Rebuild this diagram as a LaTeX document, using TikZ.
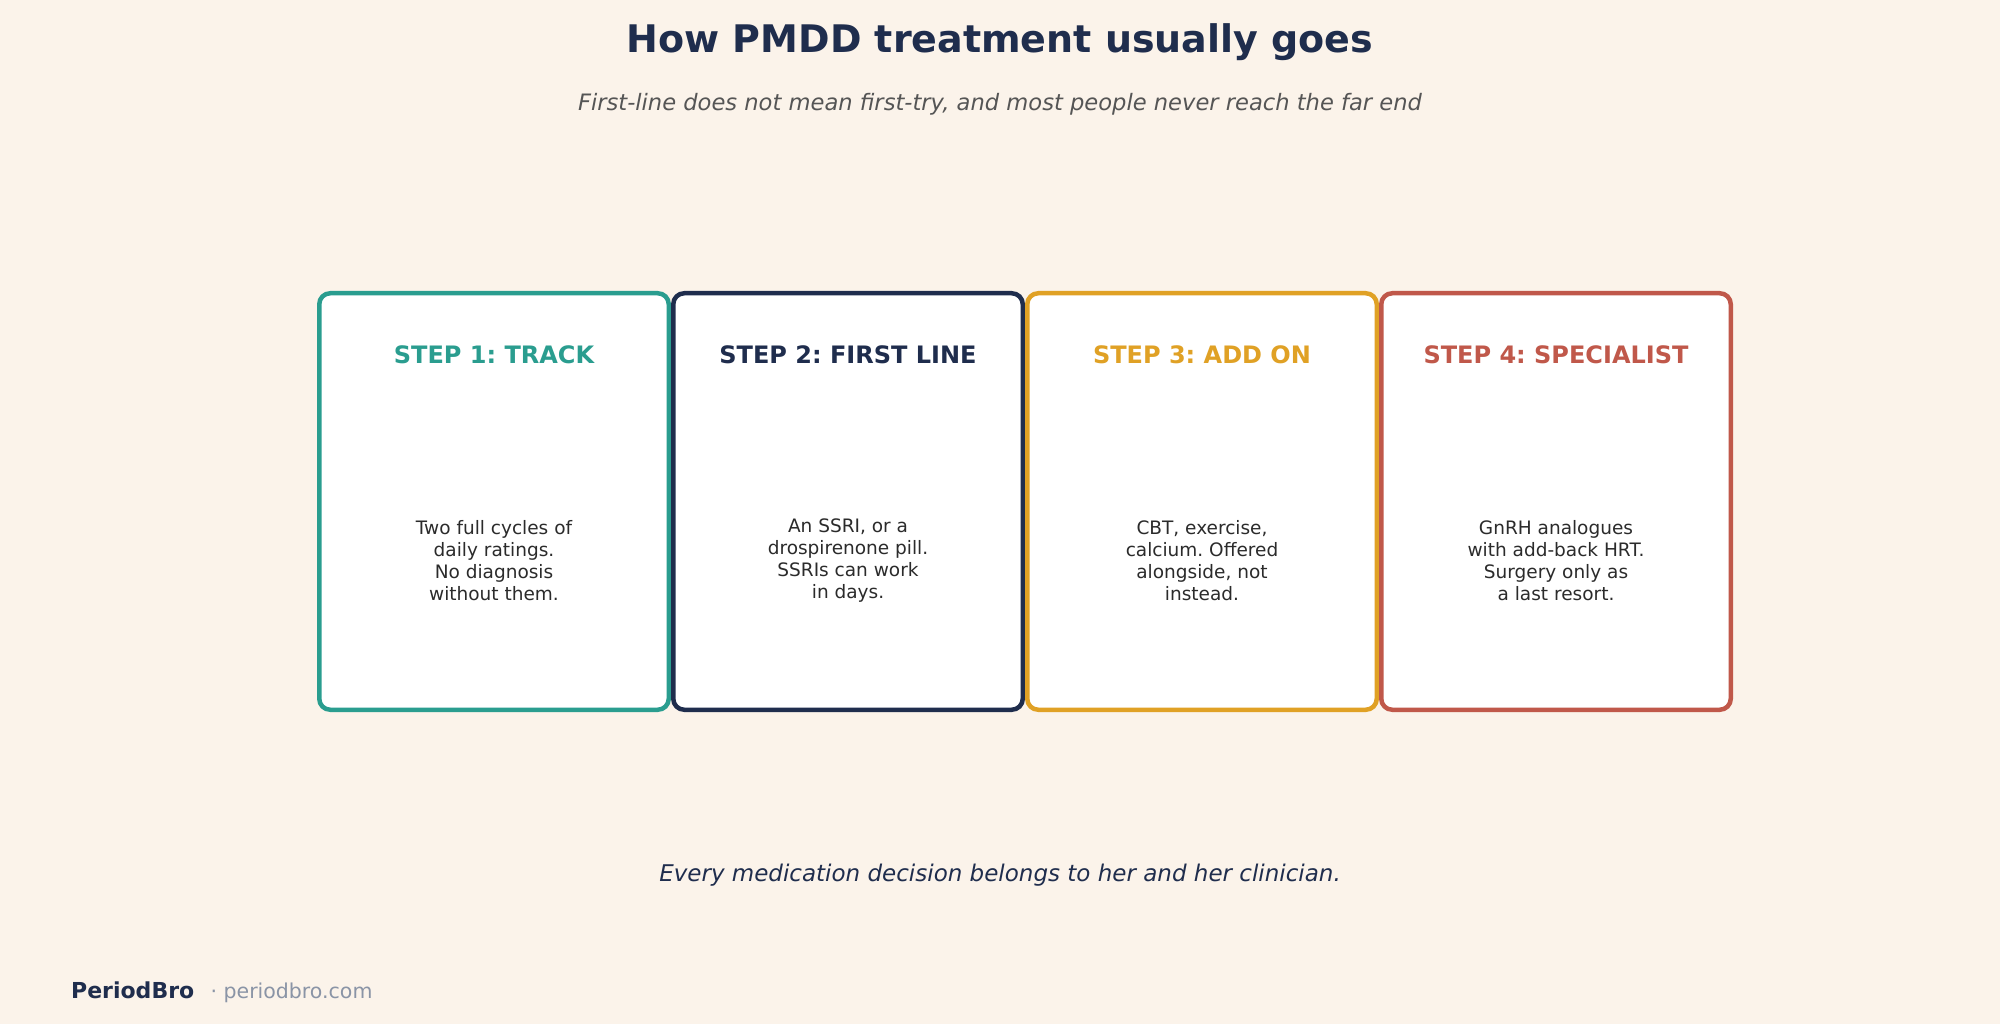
\documentclass[tikz,border=0pt]{standalone}
\usepackage{fontspec}
\setmainfont{DejaVu Sans}
\usetikzlibrary{positioning}
\frenchspacing

\definecolor{bgcream}{HTML}{FBF3EA}
\definecolor{inknavy}{HTML}{1F2D4D}
\definecolor{stepteal}{HTML}{2A9D8F}
\definecolor{stepgold}{HTML}{E0A125}
\definecolor{stepred}{HTML}{C0584A}
\definecolor{bodyink}{HTML}{2B2B2B}
\definecolor{subgrey}{HTML}{555555}
\definecolor{urlgrey}{HTML}{8A94A6}

\begin{document}
\begin{tikzpicture}[x=1pt, y=-1pt,
  card/.style={draw=#1, fill=white, line width=4.5pt, rounded corners=11pt,
    minimum width=349.5pt, minimum height=416.5pt, inner sep=0pt},
  cardtitle/.style={text=#1, font=\fontsize{24}{28}\selectfont\bfseries},
  cardbody/.style={text=bodyink, align=center, font=\fontsize{18.5}{22}\selectfont}]
  \fill[bgcream] (0,0) rectangle (2000,1024);
  \useasboundingbox (0,0) rectangle (2000,1024);

  % heading
  \node[text=inknavy, font=\fontsize{38}{44}\selectfont\bfseries] (title) at (1000,42.5) {How PMDD treatment usually goes};
  \node[text=subgrey, font=\fontsize{22.6}{26}\selectfont\itshape] (subtitle) at (1000,104.5) {First-line does not mean first-try, and most people never reach the far end};

  % the four steps
  \node[card=stepteal] (track) at (494,501.5) {};
  \node[card=inknavy, right=0pt of track] (firstline) {};
  \node[card=stepgold, right=0pt of firstline] (addon) {};
  \node[card=stepred, right=0pt of addon] (specialist) {};

  \node[cardtitle=stepteal] (tracktitle) at ([yshift=-64pt]track.north) {STEP 1: TRACK};
  \node[cardtitle=inknavy] (firstlinetitle) at ([yshift=-64pt]firstline.north) {STEP 2: FIRST LINE};
  \node[cardtitle=stepgold] (addontitle) at ([yshift=-64pt]addon.north) {STEP 3: ADD ON};
  \node[cardtitle=stepred] (specialisttitle) at ([yshift=-64pt]specialist.north) {STEP 4: SPECIALIST};

  \node[cardbody] (trackbody) at ([yshift=-59pt]track.center) {Two full cycles of\\daily ratings.\\No diagnosis\\without them.};
  \node[cardbody] (firstlinebody) at ([yshift=-59pt]firstline.center) {An SSRI, or a\\drospirenone pill.\\SSRIs can work\\in days.};
  \node[cardbody] (addonbody) at ([yshift=-59pt]addon.center) {CBT, exercise,\\calcium. Offered\\alongside, not\\instead.};
  \node[cardbody] (specialistbody) at ([yshift=-59pt]specialist.center) {GnRH analogues\\with add-back HRT.\\Surgery only as\\a last resort.};

  % closing line and footer
  \node[anchor=base, text=inknavy, font=\fontsize{23}{27}\selectfont\itshape] (closing) at (1000,881) {Every medication decision belongs to her and her clinician.};
  \node[anchor=base west, inner sep=0pt, text=inknavy, font=\fontsize{22}{26}\selectfont\bfseries] (brand) at (71,998) {PeriodBro};
  \node[anchor=base west, inner sep=0pt, text=urlgrey, font=\fontsize{20.5}{24}\selectfont] (site) at ([xshift=16pt]brand.base east) {· periodbro.com};
\end{tikzpicture}
\end{document}
